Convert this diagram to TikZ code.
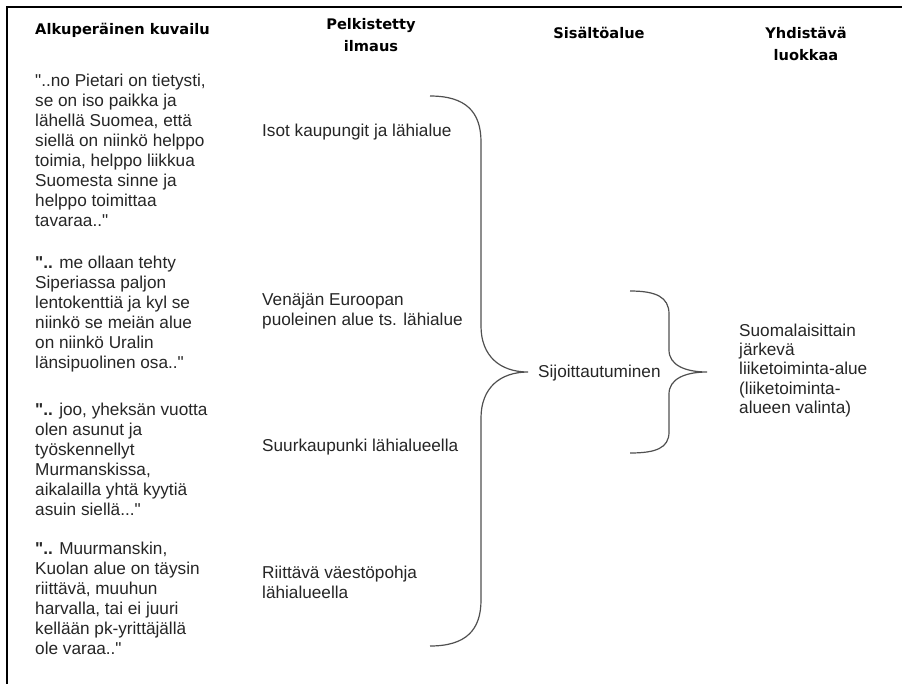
\documentclass[tikz,border=0pt]{standalone}
\usepackage{fontspec}
\setmainfont{Liberation Sans}
\newfontfamily\hdfont{DejaVu Sans}
\definecolor{txt}{RGB}{38,38,38}
\definecolor{brc}{RGB}{80,80,80}
\newcommand\dq{\textquotedbl}
\newcommand\mylines[1]{\begin{tabular}[t]{@{}l@{}}#1\end{tabular}}
\newcommand\mylinesc[1]{\begin{tabular}[t]{@{}c@{}}#1\end{tabular}}
\tikzset{
  body/.style={font=\fontsize{17.2}{20}\selectfont, text=txt, inner sep=0pt, anchor=base west},
  bodyr/.style={font=\fontsize{17.2}{19.4}\selectfont, text=txt, inner sep=0pt, anchor=base west},
  head/.style={font=\hdfont\bfseries\fontsize{14.6}{22}\selectfont, text=black, inner sep=0pt, anchor=base},
  headl/.style={head, anchor=base west},
  bracepath/.style={draw=brc, line width=1.2pt},
  frame/.style={draw=black, line width=2.2pt}
}
\begin{document}
\begin{tikzpicture}[x=1pt,y=-1pt]
\useasboundingbox (0,0) rectangle (902,683);
\fill[white] (0,0) rectangle (902,683);
% frame
\coordinate (fbl) at (7,684);
\coordinate (ftl) at (7,7);
\coordinate (ftr) at (903,7);
\draw[frame] (fbl) -- (ftl) -- (ftr);

% headers
\node[headl] (h1) at (35,34) {Alkuperäinen kuvailu};
\node[head] (h2) at (371,29) {\mylinesc{Pelkistetty\\ilmaus}};
\node[head] (h3) at (599,38) {Sisältöalue};
\node[head] (h4) at (806,38) {\mylinesc{Yhdistävä\\luokkaa}};

% original quotes
\node[body] (q1) at (35,86) {\mylines{\dq..no Pietari on tietysti,\\se on iso paikka ja\\lähellä Suomea, että\\siellä on niinkö helppo\\toimia, helppo liikkua\\Suomesta sinne ja\\helppo toimittaa\\tavaraa..\dq}};
\node[body] (q2) at (35,268) {\mylines{\textbf{\dq..} me ollaan tehty\\Siperiassa paljon\\lentokenttiä ja kyl se\\niinkö se meiän alue\\on niinkö Uralin\\länsipuolinen osa..\dq}};
\node[body] (q3) at (35,415) {\mylines{\textbf{\dq..} joo, yheksän vuotta\\olen asunut ja\\työskennellyt\\Murmanskissa,\\aikalailla yhtä kyytiä\\asuin siellä...\dq}};
\node[body] (q4) at (35,554) {\mylines{\textbf{\dq..} Muurmanskin,\\Kuolan alue on täysin\\riittävä, muuhun\\harvalla, tai ei juuri\\kellään pk-yrittäjällä\\ole varaa..\dq}};

% reduced expressions
\node[body] (m1) at (262,136) {Isot kaupungit ja lähialue};
\node[body] (m2) at (262,305) {\mylines{Venäjän Euroopan\\puoleinen alue ts. lähialue}};
\node[body] (m3) at (262,451) {Suurkaupunki lähialueella};
\node[body] (m4) at (262,578) {\mylines{Riittävä väestöpohja\\lähialueella}};

% content area and combining class
\node[body] (s) at (538,377) {Sijoittautuminen};
\node[bodyr] (r) at (739,336) {\mylines{Suomalaisittain\\järkevä\\liiketoiminta-alue\\(liiketoiminta-\\alueen valinta)}};

% big brace
\coordinate (bigtop) at (430,96);
\coordinate (bigtip) at (528,372);
\coordinate (bigbot) at (430,646);
\draw[bracepath] (bigtop) .. controls (466,96) and (481,112) .. (481,142) -- (481,326)
  .. controls (481,356) and (500,372) .. (bigtip)
  .. controls (500,372) and (481,388) .. (481,418) -- (481,600)
  .. controls (481,630) and (466,646) .. (bigbot);

% small brace
\coordinate (smtop) at (630,291);
\coordinate (smtip) at (707,372);
\coordinate (smbot) at (630,453);
\draw[bracepath] (smtop) .. controls (656,291) and (669,297) .. (669,314) -- (669,350)
  .. controls (669,365) and (685,372) .. (smtip)
  .. controls (685,372) and (669,379) .. (669,394) -- (669,432)
  .. controls (669,448) and (656,453) .. (smbot);
\end{tikzpicture}
\end{document}
